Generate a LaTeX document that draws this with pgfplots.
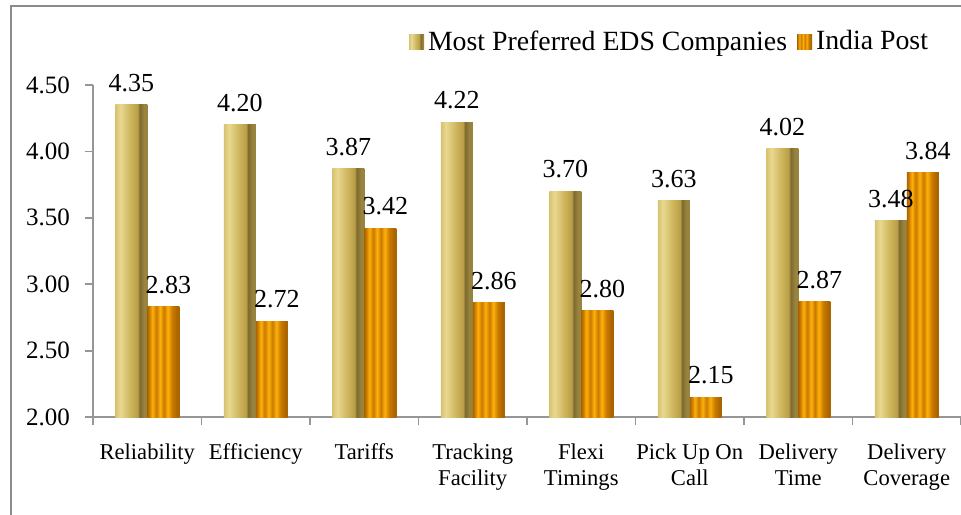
\documentclass[border=0pt]{standalone}
\usepackage{fontspec}
\setmainfont{Liberation Serif}
\usepackage{pgfplots}
\pgfplotsset{compat=1.18}

\definecolor{framegray}{RGB}{140,140,140}
\definecolor{axisgray}{RGB}{150,150,150}
\definecolor{goldA}{RGB}{214,194,112}
\definecolor{goldB}{RGB}{232,216,144}
\definecolor{goldC}{RGB}{204,178,88}
\definecolor{goldD}{RGB}{184,158,72}
\definecolor{goldE}{RGB}{126,106,46}
\definecolor{goldF}{RGB}{152,132,62}
\definecolor{orL}{RGB}{255,176,10}
\definecolor{orD}{RGB}{200,122,0}
\definecolor{orE}{RGB}{170,100,0}

% shadings: the path is fitted to 25bp..75bp
\pgfdeclarehorizontalshading{goldbar}{100bp}{color(0bp)=(goldA); color(25bp)=(goldA);
  color(33bp)=(goldB); color(50bp)=(goldC); color(60bp)=(goldD);
  color(63bp)=(goldE); color(70bp)=(goldF); color(75bp)=(goldF); color(100bp)=(goldF)}
\pgfdeclarehorizontalshading{orangebar}{100bp}{color(0bp)=(orE); color(25bp)=(orE);
  color(28bp)=(orD); color(33bp)=(orL); color(39bp)=(orD); color(45bp)=(orL);
  color(51bp)=(orD); color(57bp)=(orL); color(64bp)=(orD); color(72bp)=(orE);
  color(75bp)=(orE); color(100bp)=(orE)}

\pgfplotsset{
  eds/.style={draw=none, shading=goldbar, bar shift=-8pt},
  ip/.style={draw=none, shading=orangebar, bar shift=8pt,
    nodes near coords style={xshift=2.5pt}},
}

\begin{document}
\begin{tikzpicture}
\useasboundingbox (0,0) rectangle (480.5pt,257pt);
\draw[framegray,line width=0.9pt] (5.5pt,-2pt) -- (5.5pt,254pt) -- (483pt,254pt);
\begin{axis}[
  at={(46.5pt,48.5pt)}, anchor=south west,
  scale only axis, width=434pt, height=166pt,
  ybar=0pt, bar width=16pt,
  xmin=-0.5, xmax=7.5, ymin=2, ymax=4.5,
  clip=false,
  axis x line*=bottom, axis y line*=left,
  axis line style={axisgray, line width=0.9pt},
  xtick={0,...,7},
  xticklabels={Reliability,Efficiency,Tariffs,{Tracking\\Facility},{Flexi\\Timings},{Pick Up On\\Call},{Delivery\\Time},{Delivery\\Coverage}},
  xticklabel style={align=center, font=\fontsize{11.3}{13}\selectfont, yshift=-6pt},
  major x tick style={draw=none},
  minor xtick={-0.5,0.5,...,7.5},
  minor x tick style={axisgray, line width=0.9pt},
  minor tick length=4pt,
  ytick={2,2.5,...,4.5},
  major tick length=4pt,
  tick align=outside,
  y tick style={axisgray, line width=0.9pt},
  yticklabel style={font=\fontsize{12.5}{14}\selectfont, xshift=-4pt,
    /pgf/number format/.cd, fixed, fixed zerofill, precision=2},
  /pgf/number format/assume math mode=true,
  nodes near coords={\pgfmathprintnumber[fixed,fixed zerofill,precision=2,assume math mode=true]{\pgfplotspointmeta}},
  nodes near coords style={font=\fontsize{13}{15}\selectfont, anchor=south, yshift=3pt},
  legend style={at={(0.974,1.13)}, anchor=east, draw=none, fill=none,
    font=\fontsize{13.9}{16}\selectfont, legend columns=2,
    /tikz/every even column/.append style={column sep=3pt}},
  legend image code/.code={\path[#1,draw=none] (0pt,-3.6pt) rectangle (7.5pt,3.9pt);},
]
% one plot per bar, so that each bar gets its own shading
\addplot[eds] coordinates {(0,4.35)};
\addlegendentry{Most Preferred EDS Companies}
\addplot[ip] coordinates {(0,2.83)};
\addlegendentry{India Post}
\addplot[eds, forget plot] coordinates {(1,4.20)};
\addplot[eds, forget plot] coordinates {(2,3.87)};
\addplot[eds, forget plot] coordinates {(3,4.22)};
\addplot[eds, forget plot] coordinates {(4,3.70)};
\addplot[eds, forget plot] coordinates {(5,3.63)};
\addplot[eds, forget plot] coordinates {(6,4.02)};
\addplot[eds, forget plot] coordinates {(7,3.48)};
\addplot[ip, forget plot] coordinates {(1,2.72)};
\addplot[ip, forget plot] coordinates {(2,3.42)};
\addplot[ip, forget plot] coordinates {(3,2.86)};
\addplot[ip, forget plot] coordinates {(4,2.80)};
\addplot[ip, forget plot] coordinates {(5,2.15)};
\addplot[ip, forget plot] coordinates {(6,2.87)};
\addplot[ip, forget plot] coordinates {(7,3.84)};
\end{axis}
\end{tikzpicture}
\end{document}
